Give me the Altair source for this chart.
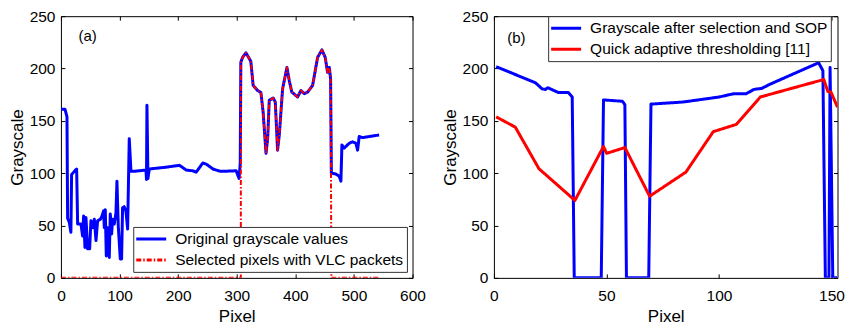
import altair as alt
import pandas as pd

FONT = "Liberation Sans"

# ---------------- Panel (a) data ----------------
a_x = [0, 6.9, 10.3, 11.4, 14.3, 17, 18.2, 22.8, 26.8, 28.5, 34.2, 37, 38.7, 41, 42.7,
       45.5, 49, 51.2, 54, 57, 59.8, 62.6, 67.4, 70, 72.8, 74, 75.7, 77.4, 79.6, 82.5,
       84.2, 86.5, 88.2, 91, 93.9, 95.6, 97.8, 101.3, 103.5, 105.2, 108, 110.9, 113.8,
       116.6, 119.5, 125, 145.1, 146, 146.8, 148.5, 150.8, 179, 202, 205, 213.7, 225,
       230.8, 242, 248, 259.4, 270.8, 276.5, 299, 304, 306, 307, 310, 315.7, 324, 328,
       335.6, 341.3, 345, 350, 352.8, 355.5, 362.3, 365.8, 369.7, 372.6, 378.3, 385.7,
       389.6, 394, 403.9, 409.6, 415.2, 421, 429.5, 438, 445.4, 451, 455, 458, 460.2,
       461.5, 469, 475, 477.8, 479.5, 483.5, 492, 497.7, 503.4, 506.3, 509, 514.8, 526, 543]
a_y = [161, 161, 154, 57, 53, 43.5, 98.7, 101.7, 104, 51.4, 51.4, 40, 59, 29, 57.7,
       27.7, 27.7, 54.6, 48, 56, 35.6, 54.6, 56, 59, 64, 48, 65, 21, 48, 19.5,
       61, 42, 56, 51.4, 62, 92.4, 49.9, 18, 18, 67, 68, 64, 46.6,
       133, 101.8, 101.8, 103, 94, 164.9, 95, 104, 105.7, 107.5, 106.5, 103, 102.3,
       101, 109.7, 108.7, 104, 102, 101.8, 102.3, 95, 109.7, 206, 210.6, 215, 207, 184,
       179, 177, 158.6, 119, 133, 169.6, 171.8, 168, 122, 136.5, 180.6, 201,
       188.5, 177.5, 172.8, 179, 176, 177.5, 183.8, 210.6, 217.8, 210.6, 196.4, 201, 190,
       100, 99.3, 97, 92.4, 127, 124, 128.6, 130, 128.6, 122, 135, 134, 135, 136.5]
sel_start, sel_end = 307, 460.2
sel_edges_x = [0, 307, 461.5, 543]
a_sel_x = sel_edges_x[:2] + [x for x in a_x if sel_start <= x <= sel_end] + sel_edges_x[2:]
a_sel_y = [0, 0] + [y for x, y in zip(a_x, a_y) if sel_start <= x <= sel_end] + [0, 0]
a_names = ["Original grayscale values", "Selected pixels with VLC packets"]

# ---------------- Panel (b) data ----------------
b_x = [1, 18.5, 21.4, 22.9, 24, 28.7, 33.1, 34.8, 35.7, 47.7, 48.7, 57.1, 58.2, 58.9,
       68.8, 69.8, 84.1, 100.1, 106.7, 112.2, 115.5, 119, 122.7, 144.3, 146.2, 147.3,
       148.9, 149.4, 150.6, 152.6]
b_y = [201.8, 186.3, 180.6, 180, 181.6, 177, 177, 172.8, 0, 0, 170, 168.7, 165.5, 0,
       0, 166, 168, 172.8, 176, 176, 180, 181, 185, 205.5, 198, 0,
       0, 201, 0, 0]
t_x = [1, 9.5, 20, 36, 48.7, 50.1, 58.2, 69.2, 85.3, 97.5, 107.7, 118.4, 146.6, 148.4, 149.8, 152.7]
t_y = [153.8, 144, 104.3, 74, 125.5, 119, 124.5, 78, 101, 139.7, 146.6, 172.8, 189.5, 178, 177.5, 163]
b_names = ["Grayscale after selection and SOP", "Quick adaptive thresholding [11]"]

y_ticks = [0, 50, 100, 150, 200, 250]
a_xticks = [0, 100, 200, 300, 400, 500, 600]
b_xticks = [0, 50, 100, 150]
panel_labels = ["(a)", "(b)"]
label_pos = [(45.5, 231), (10, 229)]


def frame(xs, ys, name):
    return pd.DataFrame({"x": xs, "y": ys, "series": name, "i": range(len(xs))})


def panel(df, names, colors, dashes, widths, xdom, xticks, label, lpos, legxy, W, H):
    cs = alt.Scale(domain=names, range=colors)
    ds = alt.Scale(domain=names, range=dashes)
    leg = dict(orient="none", legendX=legxy[0], legendY=legxy[1], title=None)
    xs = alt.Scale(domain=xdom, nice=False, zero=False)
    ys = alt.Scale(domain=[0, 250], nice=False)
    ax_main_x = alt.Axis(values=xticks, title="Pixel", tickSize=0, domain=False,
                         grid=False, labelPadding=10.5, titlePadding=5, labelFlush=False)
    ax_main_y = alt.Axis(values=y_ticks, title="Grayscale", tickSize=0, domain=False,
                         grid=False, labelPadding=6, titlePadding=2.4)
    ax_top = alt.Axis(values=xticks, orient="top", offset=-H, labels=False, title=None,
                      domain=False, grid=False, tickSize=4)
    ax_right = alt.Axis(values=y_ticks, orient="right", offset=-W, labels=False, title=None,
                        domain=False, grid=False, tickSize=4)
    ax_bot2 = alt.Axis(values=xticks, orient="bottom", offset=-H, labels=False, title=None,
                       domain=False, grid=False, tickSize=4)
    ax_left2 = alt.Axis(values=y_ticks, orient="left", offset=-W, labels=False, title=None,
                        domain=False, grid=False, tickSize=4)

    def line(k, axx, axy):
        return alt.Chart(df).transform_filter(alt.datum.series == names[k]).mark_line(
            strokeWidth=widths[k], clip=True, strokeJoin="round"
        ).encode(
            x=alt.X("x:Q", scale=xs, axis=axx),
            y=alt.Y("y:Q", scale=ys, axis=axy),
            color=alt.Color("series:N", scale=cs, legend=alt.Legend(**leg)),
            strokeDash=alt.StrokeDash("series:N", scale=ds, legend=alt.Legend(**leg)),
            order="i:Q",
        )

    txt = alt.Chart(pd.DataFrame({"x": [lpos[0]], "y": [lpos[1]], "t": [label]})).mark_text(
        fontSize=15, color="black", font=FONT
    ).encode(
        x=alt.X("x:Q", scale=xs, axis=ax_bot2),
        y=alt.Y("y:Q", scale=ys, axis=ax_left2),
        text="t:N",
    )
    return alt.layer(line(0, ax_main_x, ax_main_y), line(1, ax_top, ax_right), txt).resolve_axis(
        x="independent", y="independent"
    ).properties(width=W, height=H)


H = 262
df_a = pd.concat([frame(a_x, a_y, a_names[0]), frame(a_sel_x, a_sel_y, a_names[1])])
df_b = pd.concat([frame(b_x, b_y, b_names[0]), frame(t_x, t_y, b_names[1])])

pa = panel(df_a, a_names, ["#0000ff", "#ff0000"], [[1, 0], [5, 2, 1.5, 2]], [3, 2],
           [0, 600], a_xticks, panel_labels[0], label_pos[0], (72.4, 211), 352, H)
pb = panel(df_b, b_names, ["#0000ff", "#ff0000"], [[1, 0], [1, 0]], [3, 3],
           [0, 152.7], b_xticks, panel_labels[1], label_pos[1], (54.3, 0), 344, H)

chart = alt.hconcat(pa, pb, spacing=14.5).resolve_scale(
    color="independent", strokeDash="independent", x="independent", y="independent"
).resolve_legend(color="independent", strokeDash="independent").properties(
    padding={"left": 0, "top": 0, "right": 0, "bottom": 0}
).configure(font=FONT).configure_axis(
    labelFont=FONT, titleFont=FONT, labelFontSize=15.5, titleFontSize=17,
    titleFontWeight="normal", labelColor="black", titleColor="black", tickColor="black",
    tickWidth=1
).configure_view(stroke="black", strokeWidth=1).configure_legend(
    labelFont=FONT, labelFontSize=15.5, labelColor="black", fillColor="white",
    strokeColor="#333333", padding=3, symbolType="M-2,0H2", symbolSize=225,
    symbolStrokeWidth=3, symbolOffset=6, labelOffset=15, rowPadding=3, labelLimit=500
)

chart.save("out.html", embed_options={"renderer": "svg", "actions": False})
